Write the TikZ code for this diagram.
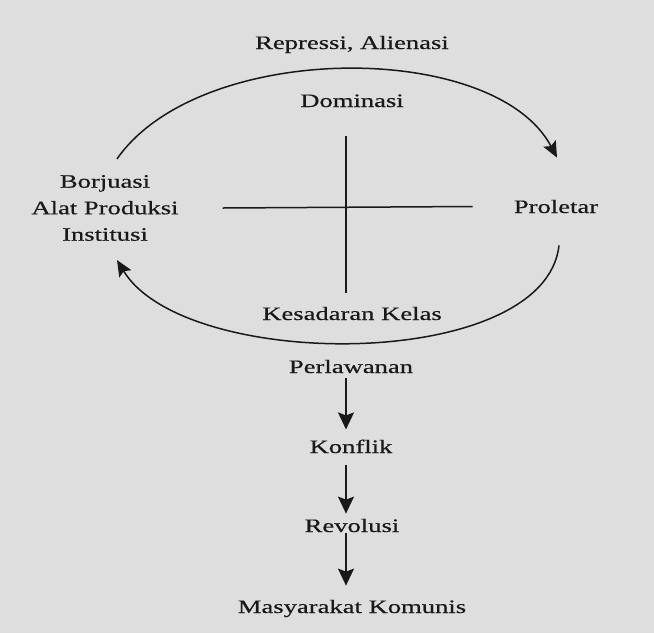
\documentclass[tikz,border=0pt]{standalone}
\usepackage{fontspec}
\setmainfont{Liberation Serif}[FakeStretch=1.4,FakeBold=0.5]
\usepackage{tikz}
\usetikzlibrary{arrows.meta,positioning}
\definecolor{paper}{gray}{0.87}
\definecolor{ink}{gray}{0.1}
\tikzset{
    raw entry/.style={inner sep=1pt, text=ink, font=\fontsize{19}{26.5}\selectfont, align=center},
    class entry/.style={raw entry},
    stage entry/.style={raw entry},
    basic line/.style={draw=ink, line width=1.5pt},
    cycle edge/.style={basic line, -{Stealth[length=16pt,width=14pt,inset=3pt]}},
    flow edge/.style={basic line, -{Stealth[length=17pt,width=16pt,inset=3pt]}}
}
\begin{document}
\begin{tikzpicture}[x=1pt,y=1pt]
	\fill[paper] (0,0) rectangle (654,-633);
	% cycle
	\node[raw entry, anchor=base] (rep) at (352,-49) {Repressi, Alienasi};
	\node[raw entry, anchor=base] (dom) at (352,-107) {Dominasi};
	\node[class entry] (bor) at (105,-208) {Borjuasi\\Alat Produksi\\Institusi};
	\node[class entry, anchor=base] (pro) at (556,-213) {Proletar};
	\node[raw entry, anchor=base] (kes) at (352,-320) {Kesadaran Kelas};
	\draw[basic line] ([xshift=-6pt,yshift=-28pt]dom.south) -- ([xshift=-6pt,yshift=13pt]kes.north);
	\draw[basic line] ([xshift=43pt]bor.east) -- ([xshift=-40pt]pro.west);
	\draw[cycle edge] ([shift={(12pt,15pt)}]bor.north) .. controls (200,-40) and (495,-40) .. ([shift={(1pt,41pt)}]pro.north);
	\draw[cycle edge] ([shift={(3pt,-31pt)}]pro.south) .. controls (545,-372) and (185,-372) .. ([shift={(12pt,-18pt)}]bor.south);
	% stages
	\node[stage entry, anchor=base] (per) at (351,-373) {Perlawanan};
	\node[stage entry, anchor=base] (kon) at (351,-453) {Konflik};
	\node[stage entry, anchor=base] (rev) at (352,-532) {Revolusi};
	\node[stage entry, anchor=base] (mas) at (352,-613) {Masyarakat Komunis};
	\draw[flow edge] ([xshift=-5pt,yshift=-4pt]per.south) -- ([xshift=-5pt,yshift=9pt]kon.north);
	\draw[flow edge] ([xshift=-5pt,yshift=-11pt]kon.south) -- ([xshift=-6pt,yshift=4pt]rev.north);
	\draw[flow edge] ([xshift=-6pt,yshift=0pt]rev.south) -- ([xshift=-6pt,yshift=13pt]mas.north);
\end{tikzpicture}
\end{document}
